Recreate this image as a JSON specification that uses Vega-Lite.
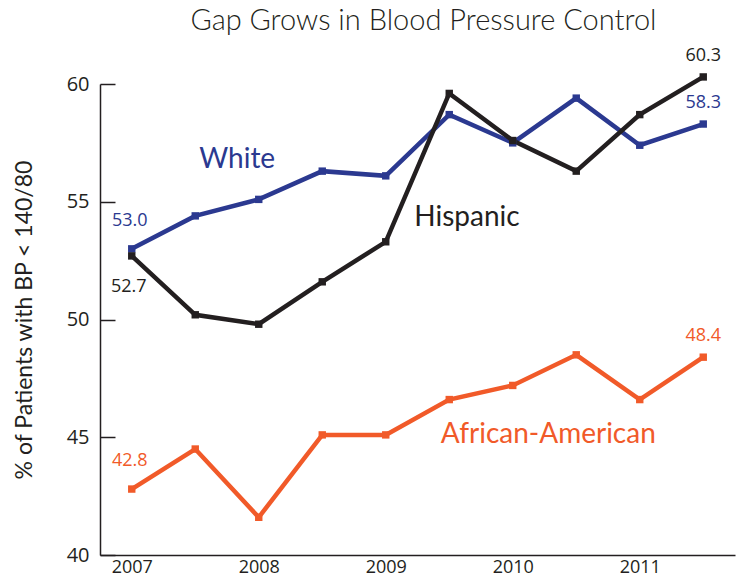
{
  "$schema": "https://vega.github.io/schema/vega-lite/v6.json",
  "width": 635,
  "height": 471,
  "autosize": {"type": "none"},
  "padding": {"left": 100, "top": 84, "right": 5, "bottom": 23},
  "background": "white",
  "title": {
    "text": "Gap Grows in Blood Pressure Control",
    "font": "Lato",
    "fontWeight": 300,
    "fontSize": 29,
    "color": "#231f20",
    "anchor": "middle",
    "offset": 11,
    "dx": 6
  },
  "config": {
    "view": {"stroke": null},
    "font": "Open Sans"
  },
  "datasets": {
    "bp": [
      {"year": 2007.0, "group": "White", "pct": 53.0},
      {"year": 2007.5, "group": "White", "pct": 54.4},
      {"year": 2008.0, "group": "White", "pct": 55.1},
      {"year": 2008.5, "group": "White", "pct": 56.3},
      {"year": 2009.0, "group": "White", "pct": 56.1},
      {"year": 2009.5, "group": "White", "pct": 58.7},
      {"year": 2010.0, "group": "White", "pct": 57.5},
      {"year": 2010.5, "group": "White", "pct": 59.4},
      {"year": 2011.0, "group": "White", "pct": 57.4},
      {"year": 2011.5, "group": "White", "pct": 58.3},
      {"year": 2007.0, "group": "Hispanic", "pct": 52.7},
      {"year": 2007.5, "group": "Hispanic", "pct": 50.2},
      {"year": 2008.0, "group": "Hispanic", "pct": 49.8},
      {"year": 2008.5, "group": "Hispanic", "pct": 51.6},
      {"year": 2009.0, "group": "Hispanic", "pct": 53.3},
      {"year": 2009.5, "group": "Hispanic", "pct": 59.6},
      {"year": 2010.0, "group": "Hispanic", "pct": 57.6},
      {"year": 2010.5, "group": "Hispanic", "pct": 56.3},
      {"year": 2011.0, "group": "Hispanic", "pct": 58.7},
      {"year": 2011.5, "group": "Hispanic", "pct": 60.3},
      {"year": 2007.0, "group": "African-American", "pct": 42.8},
      {"year": 2007.5, "group": "African-American", "pct": 44.5},
      {"year": 2008.0, "group": "African-American", "pct": 41.6},
      {"year": 2008.5, "group": "African-American", "pct": 45.1},
      {"year": 2009.0, "group": "African-American", "pct": 45.1},
      {"year": 2009.5, "group": "African-American", "pct": 46.6},
      {"year": 2010.0, "group": "African-American", "pct": 47.2},
      {"year": 2010.5, "group": "African-American", "pct": 48.5},
      {"year": 2011.0, "group": "African-American", "pct": 46.6},
      {"year": 2011.5, "group": "African-American", "pct": 48.4}
    ],
    "names": [
      {"year": 2007.83, "group": "White", "pct": 56.77},
      {"year": 2009.64, "group": "Hispanic", "pct": 54.31},
      {"year": 2010.28, "group": "African-American", "pct": 45.1}
    ]
  },
  "encoding": {
    "x": {
      "field": "year",
      "type": "quantitative",
      "scale": {"domain": [2006.75, 2011.75], "nice": false, "zero": false},
      "axis": {
        "values": [2007, 2008, 2009, 2010, 2011],
        "format": "d",
        "title": null,
        "grid": false,
        "ticks": false,
        "domainColor": "#231f20",
        "domainWidth": 1.5,
        "labelFont": "Open Sans",
        "labelFontSize": 18,
        "labelColor": "#231f20",
        "labelPadding": 3
      }
    },
    "y": {
      "field": "pct",
      "type": "quantitative",
      "scale": {"domain": [40, 60], "nice": false, "zero": false},
      "axis": {
        "values": [40, 45, 50, 55, 60],
        "title": "% of Patients with BP < 140/80",
        "titleFont": "Lato",
        "titleFontWeight": "normal",
        "titleFontSize": 23,
        "titleColor": "#231f20",
        "titlePadding": 30,
        "grid": false,
        "tickSize": -15,
        "tickColor": "#231f20",
        "tickWidth": 1.5,
        "domainColor": "#231f20",
        "domainWidth": 1.5,
        "labelFont": "Open Sans",
        "labelFontSize": 20,
        "labelColor": "#231f20",
        "labelPadding": 26
      }
    },
    "color": {
      "field": "group",
      "type": "nominal",
      "scale": {
        "domain": ["White", "Hispanic", "African-American"],
        "range": ["#2b3990", "#231f20", "#f15a29"]
      },
      "legend": null
    }
  },
  "layer": [
    {
      "data": {"name": "bp"},
      "mark": {"type": "line", "strokeWidth": 4.5, "strokeJoin": "miter", "clip": false},
      "encoding": {"detail": {"field": "group"}}
    },
    {
      "data": {"name": "bp"},
      "mark": {"type": "square", "size": 55, "opacity": 1, "filled": true, "clip": false}
    },
    {
      "data": {"name": "bp"},
      "transform": [
        {"filter": "datum.year == 2007 && datum.group != 'Hispanic'"}
      ],
      "mark": {"type": "text", "fontSize": 18, "font": "Open Sans", "dy": -28, "dx": -2, "baseline": "middle", "align": "center"},
      "encoding": {"text": {"field": "pct", "type": "quantitative", "format": ".1f"}}
    },
    {
      "data": {"name": "bp"},
      "transform": [
        {"filter": "datum.year == 2011.5"}
      ],
      "mark": {"type": "text", "fontSize": 18, "font": "Open Sans", "dy": -21, "baseline": "middle", "align": "center"},
      "encoding": {"text": {"field": "pct", "type": "quantitative", "format": ".1f"}}
    },
    {
      "data": {"name": "bp"},
      "transform": [
        {"filter": "datum.year == 2007 && datum.group == 'Hispanic'"}
      ],
      "mark": {"type": "text", "fontSize": 18, "font": "Open Sans", "dy": 31, "dx": -3, "baseline": "middle", "align": "center"},
      "encoding": {"text": {"field": "pct", "type": "quantitative", "format": ".1f"}}
    },
    {
      "data": {"name": "names"},
      "mark": {"type": "text", "fontSize": 28, "font": "Lato", "baseline": "middle", "align": "center"},
      "encoding": {"text": {"field": "group"}}
    }
  ]
}
